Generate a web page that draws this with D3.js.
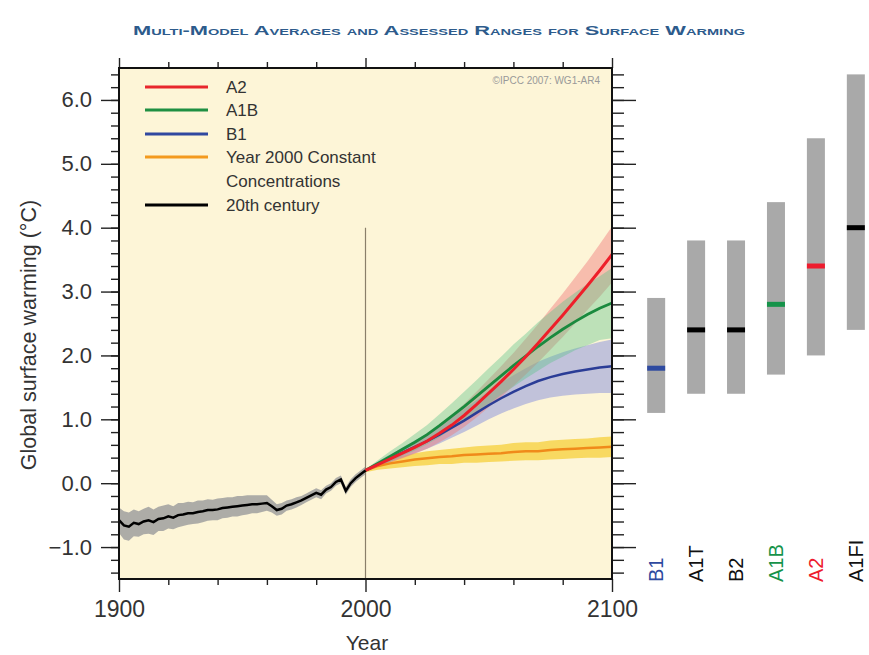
<!DOCTYPE html>
<html><head><meta charset="utf-8">
<script src="https://cdn.jsdelivr.net/npm/d3@7"></script>
<style>body{margin:0;background:#fff;} svg{display:block;font-family:"Liberation Sans",Arial,sans-serif;}</style>
</head><body>
<script>
// ---------- DATA ----------
const histYears = [1900,1902,1904,1906,1908,1910,1912,1914,1916,1918,1920,1922,1924,1926,1928,1930,1932,1934,1936,1938,1940,1942,1944,1946,1948,1950,1952,1954,1956,1958,1960,1962,1964,1966,1968,1970,1972,1974,1976,1978,1980,1982,1984,1986,1988,1990,1992,1994,1996,1998,2000];
const histMean = [-0.58,-0.66,-0.68,-0.62,-0.64,-0.6,-0.58,-0.61,-0.56,-0.55,-0.52,-0.54,-0.5,-0.49,-0.47,-0.47,-0.45,-0.44,-0.42,-0.42,-0.41,-0.39,-0.38,-0.37,-0.36,-0.35,-0.34,-0.33,-0.33,-0.32,-0.31,-0.36,-0.42,-0.4,-0.35,-0.33,-0.3,-0.27,-0.23,-0.19,-0.15,-0.18,-0.1,-0.06,0.02,0.06,-0.12,0.0,0.08,0.14,0.2];
const histSpread = [0.2,0.22,0.22,0.21,0.2,0.2,0.21,0.2,0.19,0.2,0.19,0.18,0.19,0.18,0.18,0.17,0.18,0.17,0.17,0.16,0.17,0.16,0.16,0.15,0.16,0.15,0.15,0.14,0.14,0.13,0.12,0.1,0.09,0.09,0.08,0.08,0.08,0.07,0.07,0.07,0.07,0.07,0.06,0.06,0.06,0.06,0.06,0.06,0.06,0.06,0.06];

const futYears = [2000,2005,2010,2015,2020,2025,2030,2035,2040,2045,2050,2055,2060,2065,2070,2075,2080,2085,2090,2095,2100];
const a2Mean  = [0.2,0.29,0.38,0.47,0.56,0.66,0.78,0.91,1.06,1.23,1.41,1.59,1.78,1.98,2.19,2.41,2.63,2.86,3.09,3.33,3.58];
const a2Spread = [0.02,0.04,0.06,0.08,0.1,0.12,0.14,0.16,0.18,0.2,0.22,0.24,0.26,0.28,0.3,0.32,0.34,0.36,0.38,0.41,0.44];
const a1bMean = [0.2,0.31,0.42,0.53,0.64,0.76,0.9,1.05,1.2,1.36,1.52,1.68,1.84,1.99,2.14,2.28,2.41,2.53,2.64,2.74,2.82];
const a1bSpread = [0.02,0.05,0.08,0.1,0.13,0.15,0.18,0.2,0.23,0.25,0.28,0.3,0.33,0.35,0.38,0.4,0.43,0.45,0.48,0.5,0.55];
const b1Mean  = [0.2,0.3,0.39,0.48,0.57,0.66,0.76,0.87,0.98,1.1,1.22,1.33,1.43,1.52,1.6,1.66,1.71,1.75,1.78,1.81,1.83];
const b1Spread = [0.02,0.04,0.06,0.08,0.1,0.12,0.14,0.16,0.18,0.2,0.22,0.24,0.26,0.28,0.3,0.32,0.34,0.36,0.38,0.4,0.42];
const constMean = [0.2,0.27,0.31,0.34,0.37,0.39,0.41,0.42,0.44,0.45,0.46,0.47,0.49,0.5,0.5,0.52,0.53,0.54,0.55,0.56,0.57];
const constSpread = [0.03,0.06,0.08,0.09,0.1,0.11,0.11,0.12,0.12,0.13,0.13,0.13,0.14,0.14,0.14,0.15,0.15,0.15,0.15,0.16,0.16];

const scenNames = ["B1","A1T","B2","A1B","A2","A1FI"];
const scenLow   = [1.1,1.4,1.4,1.7,2.0,2.4];
const scenHigh  = [2.9,3.8,3.8,4.4,5.4,6.4];
const scenBest  = [1.8,2.4,2.4,2.8,3.4,4.0];
const scenColor = ["#2e4aa0","#000000","#000000","#16934a","#ee1c2e","#000000"];

const legendLabels = ["A2","A1B","B1","Year 2000 Constant","20th century"];
const legendColors = ["#e8262c","#1f8f42","#3048a0","#f39a1e","#000000"];

const yMajor = [-1,0,1,2,3,4,5,6];
const xMajor = [1900,2000,2100];

// ---------- DRAW ----------
const W = 869, H = 655;
const svg = d3.select("body").append("svg").attr("width",W).attr("height",H);
const x = d3.scaleLinear().domain([1900,2100]).range([119,612]);
const y = d3.scaleLinear().domain([-1.5,6.5]).range([579,68]);

// title
svg.append("text").attr("x",439).attr("y",35).attr("text-anchor","middle")
  .attr("font-size",13.5).attr("font-weight","bold").attr("font-variant","small-caps")
  .attr("fill","#2d5b8c").attr("textLength",612).attr("lengthAdjust","spacingAndGlyphs")
  .text("Multi-Model Averages and Assessed Ranges for Surface Warming");

// plot background
svg.append("rect").attr("x",x(1900)).attr("y",y(6.5)).attr("width",x(2100)-x(1900)).attr("height",y(-1.5)-y(6.5)).attr("fill","#fdf5d7");

const g = svg.append("g");
const area = (mean, spread, yrs) => d3.area().x((d,i)=>x(yrs[i])).y0((d,i)=>y(mean[i]-spread[i])).y1((d,i)=>y(mean[i]+spread[i]));
const line = (yrs) => d3.line().x((d,i)=>x(yrs[i])).y(d=>y(d));

// bands
g.append("path").datum(histMean).attr("d",area(histMean,histSpread,histYears)).attr("fill","#9f9f9f").attr("opacity",0.85);
g.append("path").datum(constMean).attr("d",area(constMean,constSpread,futYears)).attr("fill","#f5cf3a").attr("opacity",0.75);
g.append("path").datum(b1Mean).attr("d",area(b1Mean,b1Spread,futYears)).attr("fill","#8f98dc").attr("opacity",0.55);
g.append("path").datum(a2Mean).attr("d",area(a2Mean,a2Spread,futYears)).attr("fill","#f07a7a").attr("opacity",0.45);
g.append("path").datum(a1bMean).attr("d",area(a1bMean,a1bSpread,futYears)).attr("fill","#5cc48a").attr("opacity",0.4);

// vertical 2000 line
g.append("line").attr("x1",x(2000)).attr("x2",x(2000)).attr("y1",y(4.0)).attr("y2",y(-1.5)).attr("stroke","#8a7f6a").attr("stroke-width",1.2);

// lines
g.append("path").datum(constMean).attr("d",line(futYears)).attr("fill","none").attr("stroke","#f08a1a").attr("stroke-width",2.5);
g.append("path").datum(b1Mean).attr("d",line(futYears)).attr("fill","none").attr("stroke","#2a3c96").attr("stroke-width",2.5);
g.append("path").datum(a1bMean).attr("d",line(futYears)).attr("fill","none").attr("stroke","#1a8a3e").attr("stroke-width",2.8);
g.append("path").datum(a2Mean).attr("d",line(futYears)).attr("fill","none").attr("stroke","#ee1f2a").attr("stroke-width",3);
g.append("path").datum(histMean).attr("d",line(histYears)).attr("fill","none").attr("stroke","#000").attr("stroke-width",2.5);

// legend
const legY = [87,110,134,157,205];
legendLabels.forEach((lab,i)=>{
  svg.append("line").attr("x1",145).attr("x2",208).attr("y1",legY[i]).attr("y2",legY[i]).attr("stroke",legendColors[i]).attr("stroke-width",3);
  svg.append("text").attr("x",226).attr("y",legY[i]).attr("dy","0.35em").attr("font-size",17).attr("fill","#333").text(lab);
});
svg.append("text").attr("x",226).attr("y",181).attr("dy","0.35em").attr("font-size",17).attr("fill","#333").text("Concentrations");
svg.append("text").attr("x",600).attr("y",84).attr("text-anchor","end").attr("font-size",10).attr("fill","#999").text("©IPCC 2007: WG1-AR4");

// axes
const yMinor = d3.range(-1.4,6.41,0.2).map(v=>+v.toFixed(1));
const xMinor = [1920,1940,1960,1980,2020,2040,2060,2080];
function styleAxis(sel){ sel.select(".domain").remove(); sel.selectAll("line").attr("stroke","#222").attr("stroke-width",1.4); sel.selectAll("text").attr("fill","#333").attr("font-family","Liberation Sans, Arial, sans-serif"); }
svg.append("g").attr("transform",`translate(${x(1900)},0)`).call(d3.axisLeft(y).tickValues(yMinor).tickSize(8).tickFormat("")).call(styleAxis);
svg.append("g").attr("transform",`translate(${x(1900)},0)`).call(d3.axisLeft(y).tickValues(yMajor).tickSize(18).tickPadding(9).tickFormat(d3.format(".1f"))).call(styleAxis).selectAll("text").attr("font-size",22);
svg.append("g").attr("transform",`translate(${x(2100)},0)`).call(d3.axisRight(y).tickValues(yMinor).tickSize(12).tickFormat("")).call(styleAxis);
svg.append("g").attr("transform",`translate(${x(2100)},0)`).call(d3.axisRight(y).tickValues(yMajor).tickSize(24).tickFormat("")).call(styleAxis);
svg.append("g").attr("transform",`translate(0,${y(-1.5)})`).call(d3.axisBottom(x).tickValues(xMinor).tickSize(6).tickFormat("")).call(styleAxis);
svg.append("g").attr("transform",`translate(0,${y(-1.5)})`).call(d3.axisBottom(x).tickValues(xMajor).tickSize(13).tickPadding(9).tickFormat(d3.format("d"))).call(styleAxis).selectAll("text").attr("font-size",23);
svg.append("g").attr("transform",`translate(0,${y(6.5)})`).call(d3.axisTop(x).tickValues(xMinor).tickSize(6).tickFormat("")).call(styleAxis);
svg.append("g").attr("transform",`translate(0,${y(6.5)})`).call(d3.axisTop(x).tickValues(xMajor).tickSize(10).tickFormat("")).call(styleAxis);

// frame
svg.append("rect").attr("x",x(1900)).attr("y",y(6.5)).attr("width",x(2100)-x(1900)).attr("height",y(-1.5)-y(6.5)).attr("fill","none").attr("stroke","#111").attr("stroke-width",2);

// axis titles
svg.append("text").attr("x",367).attr("y",650).attr("text-anchor","middle").attr("font-size",21).attr("fill","#333").text("Year");
svg.append("text").attr("transform","translate(36,335) rotate(-90)").attr("text-anchor","middle").attr("font-size",21.5).attr("fill","#333").text("Global surface warming (°C)");

// scenario bars
const bx = d3.scaleBand().domain(scenNames).range([636,876]).paddingInner(0.55).paddingOuter(0.28);
scenNames.forEach((s,i)=>{
  const cx = bx(s)+bx.bandwidth()/2;
  svg.append("rect").attr("x",cx-9).attr("width",18).attr("y",y(scenHigh[i])).attr("height",y(scenLow[i])-y(scenHigh[i])).attr("fill","#a9a9a9");
  svg.append("rect").attr("x",cx-9).attr("width",18).attr("y",y(scenBest[i])-2.5).attr("height",5).attr("fill",scenColor[i]);
  svg.append("text").attr("transform",`translate(${cx},582) rotate(-90)`).attr("dy","0.36em").attr("font-size",20).attr("fill",scenColor[i]==="#000000"?"#111":scenColor[i]).text(s);
});
</script>
</body></html>
